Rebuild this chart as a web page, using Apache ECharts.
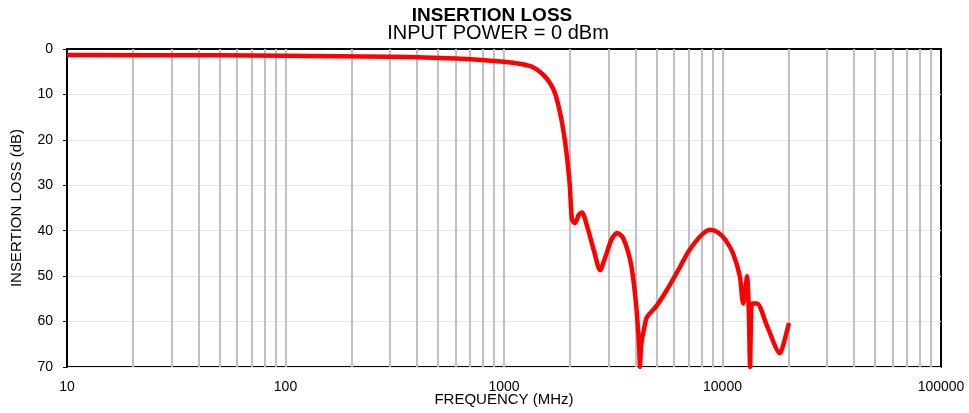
<!DOCTYPE html>
<html>
<head>
<meta charset="utf-8">
<title>Insertion Loss</title>
<script src="https://cdn.jsdelivr.net/npm/echarts@6/dist/echarts.min.js"></script>
<style>
  html, body { margin: 0; padding: 0; background: #fff; }
  #chart { width: 969px; height: 413px; }
</style>
</head>
<body>
<div id="chart"></div>
<script>
// frequency (MHz) and insertion loss (dB)
var freqMHz = [10, 50, 100, 300, 600, 1000, 1200, 1358, 1500, 1623, 1720, 1804, 1870, 1942, 2000, 2048,
  2113, 2200, 2275, 2400, 2600, 2750, 2900, 3100, 3289, 3500, 3800, 4000, 4150, 4190, 4250, 4400, 4510,
  5000, 5570, 6385, 7000, 8000, 8770, 9500, 10300, 11170, 12000, 12420, 12700, 12950, 13200, 13370,
  13500, 13650, 14390, 16000, 18330, 19000, 20150];
var lossDb = [1.3, 1.4, 1.5, 1.7, 2.1, 2.8, 3.3, 4, 5.5, 7.5, 10, 14, 18, 23.7, 30, 37.6,
  38.3, 36.5, 36, 39, 45, 48.7, 46, 42, 40.5, 41.5, 47, 55, 65, 70, 65, 61, 59,
  56.5, 53, 48, 44.5, 41, 39.8, 40.3, 42, 45, 50, 56, 53, 50, 58, 70,
  60, 56, 56, 61, 67, 65, 60.3];

var xTicks = [10, 100, 1000, 10000, 100000];
var yTicks = [0, 10, 20, 30, 40, 50, 60, 70];

// vertical grid lines at 2..9 of each decade and at the decades
var vLines = [];
for (var d = 10; d < 100000; d *= 10) {
  for (var k = 1; k <= 9; k++) {
    if (d * k > 10) vLines.push({ xAxis: d * k });
  }
}

var fontName = '"Liberation Sans", Arial, Helvetica, sans-serif';
var chart = echarts.init(document.getElementById('chart'));
chart.setOption({
  animation: false,
  title: [{
    text: 'INSERTION LOSS',
    left: 492,
    textAlign: 'center',
    top: 6,
    padding: 0,
    textStyle: { fontFamily: fontName, fontWeight: 'bold', fontSize: 19, color: '#000' }
  }, {
    text: 'INPUT POWER = 0 dBm',
    left: 498,
    textAlign: 'center',
    top: 23,
    padding: 0,
    textStyle: { fontFamily: fontName, fontWeight: 'normal', fontSize: 20, color: '#000' }
  }],
  grid: {
    left: 67, right: 28, top: 49, bottom: 46,
    outerBoundsMode: 'none',
    show: true, borderColor: '#000', borderWidth: 2
  },
  xAxis: {
    type: 'log',
    logBase: 10,
    min: 10,
    max: 100000,
    name: 'FREQUENCY (MHz)',
    nameLocation: 'middle',
    nameGap: 25,
    nameMoveOverlap: false,
    nameTextStyle: { fontFamily: fontName, fontSize: 15, color: '#000' },
    axisLine: { lineStyle: { color: '#000', width: 2 } },
    axisTick: { show: true, length: 4, lineStyle: { color: '#000' } },
    axisLabel: {
      fontFamily: fontName, fontSize: 14, color: '#000', margin: 13,
      formatter: function (v) { return xTicks.indexOf(Math.round(v)) >= 0 ? String(Math.round(v)) : ''; }
    },
    splitLine: { show: false }
  },
  yAxis: {
    type: 'value',
    inverse: true,
    min: yTicks[0],
    max: yTicks[yTicks.length - 1],
    interval: 10,
    name: 'INSERTION LOSS (dB)',
    nameLocation: 'middle',
    nameGap: 43,
    nameTextStyle: { fontFamily: fontName, fontSize: 15, color: '#000' },
    axisLine: { show: true, lineStyle: { color: '#000', width: 2 } },
    axisTick: { show: true, length: 4, lineStyle: { color: '#000' } },
    axisLabel: { fontFamily: fontName, fontSize: 14, color: '#000', margin: 14 },
    splitLine: { show: true, lineStyle: { color: '#e8e8e8', width: 1 } }
  },
  series: [{
    type: 'line',
    data: freqMHz.map(function (f, i) { return [f, lossDb[i]]; }),
    showSymbol: false,
    smooth: 0.25,
    clip: false,
    lineStyle: { color: '#ff0000', width: 4.5 },
    z: 5,
    markLine: {
      silent: true,
      symbol: 'none',
      label: { show: false },
      lineStyle: { color: '#c0c0c0', width: 2, type: 'solid' },
      data: vLines,
      z: 1
    }
  }]
});
</script>
</body>
</html>
